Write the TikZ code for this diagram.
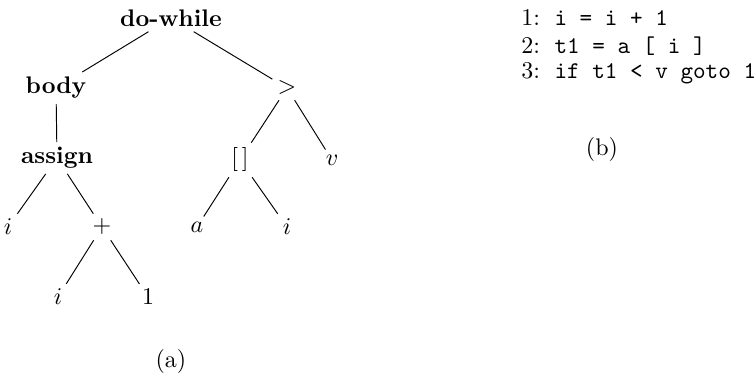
\documentclass[tikz,border=0pt]{standalone}
\begin{document}
\begin{tikzpicture}[x=0.41667pt,y=-0.41667pt,
  tn/.style={inner sep=2pt},
  edge/.style={line width=0.4pt},
  code/.style={anchor=west,inner sep=0pt}]
\useasboundingbox (0,0) rectangle (756,378);
% tree (a)
\node[tn] (dw) at (171,18) {\textbf{do-while}};
\node[tn] (body) at (56,88) {\textbf{body}};
\node[tn] (gt) at (287,88) {$>$};
\node[tn] (assign) at (57,158) {\textbf{assign}};
\node[tn] (br) at (240,160) {[\,]};
\node[tn] (v) at (332,160) {$v$};
\node[tn] (i1) at (8,227) {$i$};
\node[tn] (plus) at (102,227) {$+$};
\node[tn] (a) at (197,227) {$a$};
\node[tn] (i2) at (287,227) {$i$};
\node[tn] (i3) at (58,297) {$i$};
\node[tn] (one) at (148,297) {$1$};
\node (capa) at (171,362) {(a)};
\draw[edge] (dw) -- (body);
\draw[edge] (dw) -- (gt);
\draw[edge] (body) -- (assign);
\draw[edge] (assign) -- (i1);
\draw[edge] (assign) -- (plus);
\draw[edge] (plus) -- (i3);
\draw[edge] (plus) -- (one);
\draw[edge] (gt) -- (br);
\draw[edge] (gt) -- (v);
\draw[edge] (br) -- (a);
\draw[edge] (br) -- (i2);
% code (b)
\node[code] (l1) at (521,18) {1:\hspace{6pt}\texttt{i = i + 1}};
\node[code] (l2) at (521,46) {2:\hspace{6pt}\texttt{t1 = a [ i ]}};
\node[code] (l3) at (521,73) {3:\hspace{6pt}\texttt{if t1 < v goto 1}};
\node (capb) at (602,150) {(b)};
\end{tikzpicture}
\end{document}
